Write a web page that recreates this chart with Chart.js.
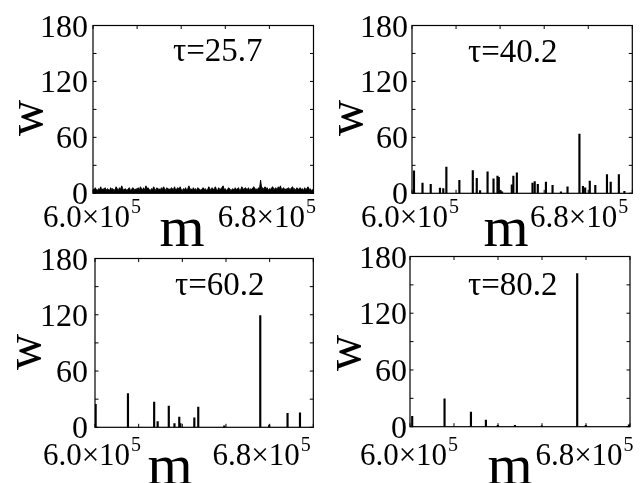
<!DOCTYPE html>
<html><head><meta charset="utf-8">
<script src="https://cdn.jsdelivr.net/npm/chart.js@4.4.1/dist/chart.umd.min.js"></script>
<style>
html,body{margin:0;padding:0;background:#fff;width:641px;height:483px;overflow:hidden}
canvas{position:absolute;left:0;top:0}
</style></head><body>
<canvas id="c0" width="641" height="483"></canvas>
<canvas id="c1" width="641" height="483"></canvas>
<canvas id="c2" width="641" height="483"></canvas>
<canvas id="c3" width="641" height="483"></canvas>
<script>
// ---- data ----
const tauLabels = ['τ=25.7', 'τ=40.2', 'τ=60.2', 'τ=80.2'];
const yTickValues = [0, 60, 120, 180];
const yTickMarks = [0, 30, 60, 90, 120, 150, 180];
const xTickMarks = [600000, 620000, 640000, 660000, 680000, 700000];
const xLabelValues = [600000, 680000];
const xLabelMantissa = ['6.0×10', '6.8×10'];
const xLabelExponent = ['5', '5'];
const xTitle = 'm';
const yTitle = 'w';

// panel 1 (tau=25.7): dense noise, m in thousands
const noiseM = [
  600,600.5,601,601.5,602,602.5,603,603.5,604,604.5,
  605,605.5,606,606.5,607,607.5,608,608.5,609,609.5,
  610,610.5,611,611.5,612,612.5,613,613.5,614,614.5,
  615,615.5,616,616.5,617,617.5,618,618.5,619,619.5,
  620,620.5,621,621.5,622,622.5,623,623.5,624,624.5,
  625,625.5,626,626.5,627,627.5,628,628.5,629,629.5,
  630,630.5,631,631.5,632,632.5,633,633.5,634,634.5,
  635,635.5,636,636.5,637,637.5,638,638.5,639,639.5,
  640,640.5,641,641.5,642,642.5,643,643.5,644,644.5,
  645,645.5,646,646.5,647,647.5,648,648.5,649,649.5,
  650,650.5,651,651.5,652,652.5,653,653.5,654,654.5,
  655,655.5,656,656.5,657,657.5,658,658.5,659,659.5,
  660,660.5,661,661.5,662,662.5,663,663.5,664,664.5,
  665,665.5,666,666.5,667,667.5,668,668.5,669,669.5,
  670,670.5,671,671.5,672,672.5,673,673.5,674,674.5,
  675,675.5,676,676.5,677,677.5,678,678.5,679,679.5,
  680,680.5,681,681.5,682,682.5,683,683.5,684,684.5,
  685,685.5,686,686.5,687,687.5,688,688.5,689,689.5,
  690,690.5,691,691.5,692,692.5,693,693.5,694,694.5,
  695,695.5,696,696.5,697,697.5,698,698.5,699,699.5,700];
const noiseW = [
  5,3,6,4,3,5,4,7,3,5,
  4,6,3,5,4,3,6,4,5,3,
  4,7,5,3,6,4,8,5,3,5,
  4,3,5,6,3,4,6,5,3,5,
  4,6,3,7,5,4,6,3,8,5,
  6,4,3,5,4,7,5,3,6,4,
  5,3,6,4,7,5,3,6,4,5,
  3,6,5,4,7,3,5,6,4,7,
  4,3,5,4,6,3,5,8,4,5,
  3,6,4,5,3,6,5,4,3,5,
  6,4,5,3,4,7,5,3,6,4,
  5,7,4,3,6,4,5,6,8,4,
  5,3,4,6,5,3,4,5,3,6,
  4,5,6,3,4,7,5,4,6,5,
  4,6,3,5,4,6,7,4,5,3,
  6,4,14,5,6,4,7,5,6,3,
  5,4,6,7,4,5,6,3,7,5,
  8,4,5,6,3,5,4,6,5,4,
  6,7,4,5,3,6,4,5,6,4,
  5,3,6,4,5,7,4,5,3,4,3];

// panel 2 (tau=40.2): spikes
const spikeM2 = [600900,604770,608500,612700,614200,615600,621500,627600,629400,630900,
  634300,637000,638800,639400,640200,640900,645300,646000,647600,654700,
  655700,657100,660800,663800,667600,670600,676000,677600,678600,680700,
  683200,688500,690200,693900,696400];
const spikeW2 = [24,11,9.5,5.5,5,28,14,24.5,16,3,
  23,15.5,18.5,17,3,1.5,9,18.5,22,11,
  12.5,9.5,12,8.5,1.5,7,63.5,7.5,6,13,
  8.5,20,12,20,2];

// panel 3 (tau=60.2)
const spikeM3 = [600300,615100,627100,628700,633800,636400,638600,639100,645500,647300,
  659200,675700,679800,688200,693900];
const spikeW3 = [24.5,36,27,6,22.5,4,11,4,10,21.5,
  1.5,119,2.5,15,15.5];

// panel 4 (tau=80.2)
const spikeM4 = [601000,615700,627700,634500,639900,647700,659900,676000,679900,699500];
const spikeW4 = [11,29.5,15.5,7,1.5,1.5,1,162,1.5,2];

// ---- layout (page pixels) ----
const layout = [
  {L:93, T:25.5, R:313.5, B:193.3, yLabR:88, xLabBase:227, xLabDx:[-1.5,-3], wX:30, wY:118, mX:182, mBase:246, tauX:173, tauBase:61},
  {L:412, T:25.5, R:632.3, B:193.3, yLabR:408, xLabBase:227, xLabDx:[-2.5,-9.5], wX:350, wY:118, mX:506, mBase:246, tauX:468, tauBase:62},
  {L:95, T:258.5, R:313.3, B:427.3, yLabR:88, xLabBase:465, xLabDx:[-3.5,-8.6], wX:28, wY:352, mX:170, mBase:484, tauX:175, tauBase:295},
  {L:410, T:256.5, R:630, B:426.7, yLabR:407, xLabBase:465, xLabDx:[-1.5,-2], wX:348, wY:353, mX:510, mBase:484, tauX:468, tauBase:295}
];
const FONT = '"Liberation Serif", "Times New Roman", serif';

function decoPlugin(i){
  const p = layout[i];
  return {
    id: 'deco' + i,
    afterDatasetsDraw(chart){
      const ctx = chart.ctx, a = chart.chartArea;
      const xs = chart.scales.x, ys = chart.scales.y;
      ctx.save();
      ctx.strokeStyle = '#000'; ctx.lineWidth = 1.2;
      ctx.strokeRect(a.left, a.top, a.right - a.left, a.bottom - a.top);
      ctx.lineWidth = 1;
      ctx.beginPath();
      xTickMarks.forEach(v => {
        const x = xs.getPixelForValue(v);
        ctx.moveTo(x, a.top); ctx.lineTo(x, a.top + 3.5);
        ctx.moveTo(x, a.bottom); ctx.lineTo(x, a.bottom - 3.5);
      });
      yTickMarks.forEach(v => {
        const y = ys.getPixelForValue(v);
        ctx.moveTo(a.left, y); ctx.lineTo(a.left + 3.5, y);
        ctx.moveTo(a.right, y); ctx.lineTo(a.right - 3.5, y);
      });
      ctx.stroke();
      ctx.fillStyle = '#000';
      // y tick labels
      ctx.font = '32px ' + FONT;
      ctx.textAlign = 'right'; ctx.textBaseline = 'alphabetic';
      yTickValues.forEach(v => {
        const y = ys.getPixelForValue(v);
        ctx.fillText(String(v), p.yLabR, y + 11);
      });
      // x tick labels with exponent
      xLabelValues.forEach((v, k) => {
        ctx.font = '31px ' + FONT;
        const wm = ctx.measureText(xLabelMantissa[k]).width;
        ctx.font = '20px ' + FONT;
        const we = ctx.measureText(xLabelExponent[k]).width;
        const cx = xs.getPixelForValue(v) + p.xLabDx[k];
        const x0 = cx - (wm + we) / 2;
        ctx.textAlign = 'left';
        ctx.font = '31px ' + FONT;
        ctx.fillText(xLabelMantissa[k], x0, p.xLabBase);
        ctx.font = '20px ' + FONT;
        ctx.fillText(xLabelExponent[k], x0 + wm + 1, p.xLabBase - 14);
      });
      // tau label
      ctx.font = '33px ' + FONT;
      ctx.textAlign = 'left';
      ctx.fillText(tauLabels[i], p.tauX, p.tauBase);
      // x title
      ctx.font = '58px ' + FONT;
      ctx.textAlign = 'center';
      ctx.fillText(xTitle, p.mX, p.mBase);
      // y title rotated
      ctx.save();
      ctx.translate(p.wX, p.wY);
      ctx.rotate(-Math.PI / 2);
      ctx.font = '50px ' + FONT;
      ctx.textAlign = 'center';
      ctx.fillText(yTitle, 0, 11.5);
      ctx.restore();
      ctx.restore();
    }
  };
}

function baseOptions(i){
  const p = layout[i];
  return {
    responsive: false, animation: false, devicePixelRatio: 1,
    layout: {padding: {left: p.L, top: p.T, right: 641 - p.R, bottom: 483 - p.B}},
    plugins: {legend: {display: false}, tooltip: {enabled: false}, title: {display: false}},
    scales: {
      x: {type: 'linear', min: 600000, max: 700000, offset: false, display: false, grid: {display: false}},
      y: {type: 'linear', min: 0, max: 180, display: false, grid: {display: false}}
    }
  };
}

// panel 1: noise as filled line
new Chart(document.getElementById('c0'), {
  type: 'line',
  data: {datasets: [{
    data: noiseM.map((m, k) => ({x: m * 1000, y: noiseW[k]})),
    borderColor: '#000', backgroundColor: '#000', borderWidth: 1,
    pointRadius: 0, fill: 'origin', tension: 0
  }]},
  options: baseOptions(0),
  plugins: [decoPlugin(0)]
});

const spikeSets = [null, [spikeM2, spikeW2], [spikeM3, spikeW3], [spikeM4, spikeW4]];
for (let i = 1; i < 4; i++){
  const [ms, ws] = spikeSets[i];
  new Chart(document.getElementById('c' + i), {
    type: 'bar',
    data: {datasets: [{
      data: ms.map((m, k) => ({x: m, y: ws[k]})),
      backgroundColor: '#000', borderWidth: 0, barThickness: 1.5
    }]},
    options: baseOptions(i),
    plugins: [decoPlugin(i)]
  });
}
</script>
</body></html>
